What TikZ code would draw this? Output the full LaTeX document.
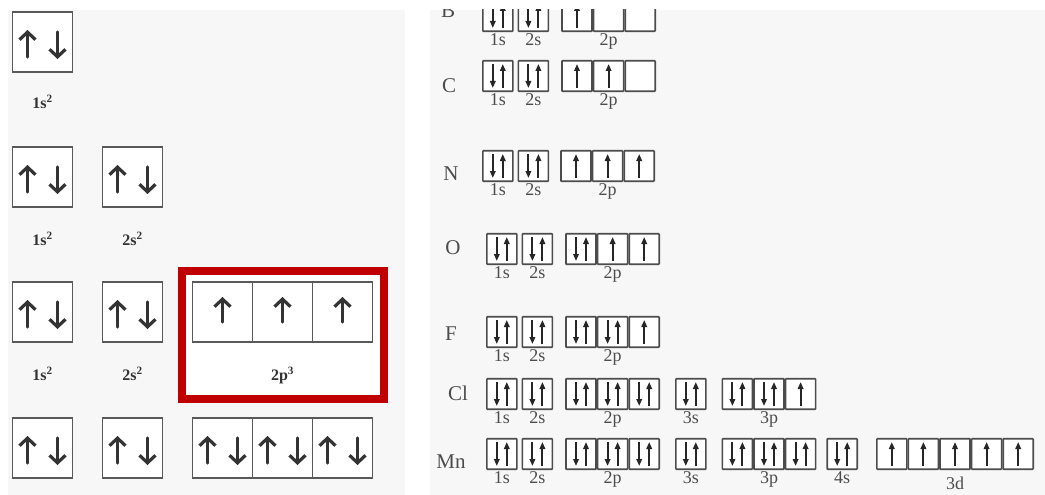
\documentclass[tikz,border=0pt]{standalone}
\usepackage{fontspec}
\setmainfont{Liberation Serif}
\usetikzlibrary{arrows.meta, positioning}
\definecolor{framered}{RGB}{192,0,0}
\definecolor{panelgray}{RGB}{247,247,247}
\tikzset{
  orb/.style={
    rectangle,
    rounded corners=0.6pt,
    draw=black!70,
    fill=white,
    line width=1.6pt,
    inner sep=0pt,
    minimum width=30pt,
    minimum height=30.5pt
  },
  spin/.style={
    -{Triangle[length=7pt,width=5.5pt]},
    line width=1.9pt,
    draw=black!85
  },
  pairorb/.style={
    orb,
    path picture={
      \draw[spin] ([xshift=-5pt,yshift=12pt]path picture bounding box.center)
        -- ([xshift=-5pt,yshift=-12pt]path picture bounding box.center);
      \draw[spin] ([xshift=5pt,yshift=-12pt]path picture bounding box.center)
        -- ([xshift=5pt,yshift=12pt]path picture bounding box.center);
    }
  },
  uporb/.style={
    orb,
    path picture={
      \draw[spin] ([yshift=-12pt]path picture bounding box.center)
        -- ([yshift=12pt]path picture bounding box.center);
    }
  },
  bigorb/.style={
    rectangle,
    draw=black!65,
    fill=white,
    line width=1.4pt,
    inner sep=0pt,
    outer sep=0pt,
    minimum size=60pt
  },
  bigspin/.style={
    -{Straight Barb[length=7.5pt,width=16pt]},
    line width=3.2pt,
    line cap=round,
    draw=black!80
  },
  bigpair/.style={
    bigorb,
    path picture={
      \draw[bigspin] ([xshift=-15pt,yshift=-15pt]path picture bounding box.center)
        -- ([xshift=-15pt,yshift=12pt]path picture bounding box.center);
      \draw[bigspin] ([xshift=15pt,yshift=10pt]path picture bounding box.center)
        -- ([xshift=15pt,yshift=-17pt]path picture bounding box.center);
    }
  },
  bigup/.style={
    bigorb,
    path picture={
      \draw[bigspin] ([yshift=-10pt]path picture bounding box.center)
        -- ([yshift=15pt]path picture bounding box.center);
    }
  },
  biglab/.style={
    font=\fontsize{16}{17}\selectfont\bfseries,
    text=black!80,
    inner sep=0pt
  },
  sub/.style={
    font=\fontsize{18}{19}\selectfont,
    text=black!70,
    inner sep=0.5pt
  },
  elem/.style={
    font=\fontsize{21}{22}\selectfont,
    text=black!70,
    inner sep=0pt
  }
}

\begin{document}
\begin{tikzpicture}[x=1pt, y=-1pt]
    \useasboundingbox (0,0) rectangle (1045,495);
    \fill[panelgray] (8,10) rectangle (405,495);
    \fill[panelgray] (430,10) rectangle (1045,495);

    % left panel: 1s2, 1s2 2s2, 1s2 2s2 2p3, full shell
    \draw[framered, fill=white, line width=8pt] (182,271) rectangle (384,399);

    \node[bigpair] (Lhe1s) at (42.5,42) {};
    \node[biglab, below=23pt of Lhe1s] (Lhe1slab) {1s\textsuperscript{2}};

    \node[bigpair] (Lbe1s) at (42.5,177) {};
    \node[bigpair] (Lbe2s) at (132.5,177) {};
    \node[biglab, below=25pt of Lbe1s] (Lbe1slab) {1s\textsuperscript{2}};
    \node[biglab, below=25pt of Lbe2s] (Lbe2slab) {2s\textsuperscript{2}};

    \node[bigpair] (Ln1s) at (42.5,312) {};
    \node[bigpair] (Ln2s) at (132.5,312) {};
    \node[bigup] (Ln2pa) at (222.5,312) {};
    \node[bigup, right=0pt of Ln2pa] (Ln2pb) {};
    \node[bigup, right=0pt of Ln2pb] (Ln2pc) {};
    \node[biglab, below=25pt of Ln1s] (Ln1slab) {1s\textsuperscript{2}};
    \node[biglab, below=25pt of Ln2s] (Ln2slab) {2s\textsuperscript{2}};
    \node[biglab, below=25pt of Ln2pb] (Ln2plab) {2p\textsuperscript{3}};

    \node[bigpair] (Lne1s) at (42.5,448) {};
    \node[bigpair] (Lne2s) at (132.5,448) {};
    \node[bigpair] (Lne2pa) at (222.5,448) {};
    \node[bigpair, right=0pt of Lne2pa] (Lne2pb) {};
    \node[bigpair, right=0pt of Lne2pb] (Lne2pc) {};

    % right panel: orbital boxes per element
    \begin{scope}
    \clip (430,10) rectangle (1045,495);

    \node[elem] (belem) at (448,11) {B};
    \node[pairorb] (b1s) at (497.8,16) {};
    \node[pairorb, right=4pt of b1s] (b2s) {};
    \node[uporb, right=12pt of b2s] (b2pa) {};
    \node[orb, right=0pt of b2pa] (b2pb) {};
    \node[orb, right=0pt of b2pb] (b2pc) {};
    \node[sub, below=1pt of b1s] (b1slab) {1s};
    \node[sub, below=1pt of b2s] (b2slab) {2s};
    \node[sub, below=1pt of b2pb] (b2plab) {2p};

    \node[elem] (celem) at (449,86) {C};
    \node[pairorb] (c1s) at (497.8,76) {};
    \node[pairorb, right=4pt of c1s] (c2s) {};
    \node[uporb, right=12pt of c2s] (c2pa) {};
    \node[uporb, right=0pt of c2pa] (c2pb) {};
    \node[orb, right=0pt of c2pb] (c2pc) {};
    \node[sub, below=1pt of c1s] (c1slab) {1s};
    \node[sub, below=1pt of c2s] (c2slab) {2s};
    \node[sub, below=1pt of c2pb] (c2plab) {2p};

    \node[elem] (nelem) at (451,174) {N};
    \node[pairorb] (n1s) at (497.8,166) {};
    \node[pairorb, right=4pt of n1s] (n2s) {};
    \node[uporb, right=11pt of n2s] (n2pa) {};
    \node[uporb, right=0pt of n2pa] (n2pb) {};
    \node[uporb, right=0pt of n2pb] (n2pc) {};
    \node[sub, below=1pt of n1s] (n1slab) {1s};
    \node[sub, below=1pt of n2s] (n2slab) {2s};
    \node[sub, below=1pt of n2pb] (n2plab) {2p};

    \node[elem] (oelem) at (453,248) {O};
    \node[pairorb] (o1s) at (501.8,249) {};
    \node[pairorb, right=4pt of o1s] (o2s) {};
    \node[pairorb, right=12pt of o2s] (o2pa) {};
    \node[uporb, right=0pt of o2pa] (o2pb) {};
    \node[uporb, right=0pt of o2pb] (o2pc) {};
    \node[sub, below=1pt of o1s] (o1slab) {1s};
    \node[sub, below=1pt of o2s] (o2slab) {2s};
    \node[sub, below=1pt of o2pb] (o2plab) {2p};

    \node[elem] (felem) at (451,334) {F};
    \node[pairorb] (f1s) at (501.8,332) {};
    \node[pairorb, right=4pt of f1s] (f2s) {};
    \node[pairorb, right=12pt of f2s] (f2pa) {};
    \node[pairorb, right=0pt of f2pa] (f2pb) {};
    \node[uporb, right=0pt of f2pb] (f2pc) {};
    \node[sub, below=1pt of f1s] (f1slab) {1s};
    \node[sub, below=1pt of f2s] (f2slab) {2s};
    \node[sub, below=1pt of f2pb] (f2plab) {2p};

    \node[elem] (clelem) at (458,393) {Cl};
    \node[pairorb] (cl1s) at (501.8,394) {};
    \node[pairorb, right=4pt of cl1s] (cl2s) {};
    \node[pairorb, right=12pt of cl2s] (cl2pa) {};
    \node[pairorb, right=0pt of cl2pa] (cl2pb) {};
    \node[pairorb, right=0pt of cl2pb] (cl2pc) {};
    \node[pairorb, right=15pt of cl2pc] (cl3s) {};
    \node[pairorb, right=15pt of cl3s] (cl3pa) {};
    \node[pairorb, right=0pt of cl3pa] (cl3pb) {};
    \node[uporb, right=0pt of cl3pb] (cl3pc) {};
    \node[sub, below=1pt of cl1s] (cl1slab) {1s};
    \node[sub, below=1pt of cl2s] (cl2slab) {2s};
    \node[sub, below=1pt of cl2pb] (cl2plab) {2p};
    \node[sub, below=1pt of cl3s] (cl3slab) {3s};
    \node[sub, below=1pt of cl3pb] (cl3plab) {3p};

    \node[elem] (mnelem) at (451,462) {Mn};
    \node[pairorb] (mn1s) at (501.8,454) {};
    \node[pairorb, right=4pt of mn1s] (mn2s) {};
    \node[pairorb, right=12pt of mn2s] (mn2pa) {};
    \node[pairorb, right=0pt of mn2pa] (mn2pb) {};
    \node[pairorb, right=0pt of mn2pb] (mn2pc) {};
    \node[pairorb, right=15pt of mn2pc] (mn3s) {};
    \node[pairorb, right=15pt of mn3s] (mn3pa) {};
    \node[pairorb, right=0pt of mn3pa] (mn3pb) {};
    \node[pairorb, right=0pt of mn3pb] (mn3pc) {};
    \node[pairorb, right=10pt of mn3pc] (mn4s) {};
    \node[uporb, right=18pt of mn4s] (mn3da) {};
    \node[uporb, right=0pt of mn3da] (mn3db) {};
    \node[uporb, right=0pt of mn3db] (mn3dc) {};
    \node[uporb, right=0pt of mn3dc] (mn3dd) {};
    \node[uporb, right=0pt of mn3dd] (mn3de) {};
    \node[sub, below=1pt of mn1s] (mn1slab) {1s};
    \node[sub, below=1pt of mn2s] (mn2slab) {2s};
    \node[sub, below=1pt of mn2pb] (mn2plab) {2p};
    \node[sub, below=1pt of mn3s] (mn3slab) {3s};
    \node[sub, below=1pt of mn3pb] (mn3plab) {3p};
    \node[sub, below=1pt of mn4s] (mn4slab) {4s};
    \node[sub, below=6pt of mn3dc] (mn3dlab) {3d};
    \end{scope}
\end{tikzpicture}
\end{document}
